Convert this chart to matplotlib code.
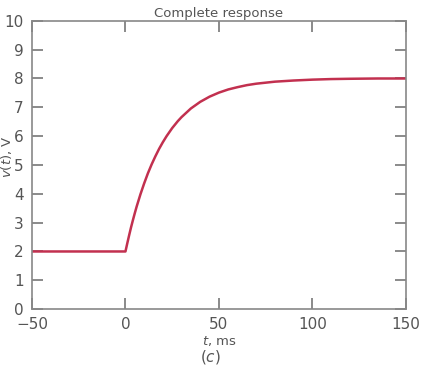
import numpy as np
import matplotlib.pyplot as plt

# values
t = [-50, 0, 1, 2, 3, 4, 5, 6, 7, 8, 9, 10, 12, 14, 16, 18, 20, 22, 25, 28, 30, 35,
     40, 45, 50, 55, 60, 65, 70, 80, 90, 100, 110, 120, 135, 150]
v = [2.0, 2.0, 2.29, 2.57, 2.84, 3.09, 3.33, 3.56, 3.77, 3.98, 4.17, 4.36, 4.71, 5.02,
     5.30, 5.56, 5.79, 6.00, 6.28, 6.52, 6.66, 6.96, 7.19, 7.37, 7.51, 7.62, 7.70, 7.77,
     7.82, 7.89, 7.93, 7.96, 7.98, 7.99, 8.0, 8.0]

xticks = [-50, 0, 50, 100, 150]
yticks = list(range(0, 11))

gray = "#555555"
fig = plt.figure(figsize=(4.21, 3.72), dpi=100)
ax = fig.add_axes([0.076, 0.169, 0.888, 0.775])
ax.plot(t, v, color="#c2304f", lw=1.8)

ax.set_xlim(-50, 150)
ax.set_ylim(0, 10)
ax.set_xticks(xticks)
ax.set_yticks(yticks)
ax.tick_params(direction="in", length=8, width=1.2, color="#777777",
               labelcolor=gray, labelsize=11, top=True, right=True)
ax.tick_params(axis="x", pad=6)
ax.tick_params(axis="y", pad=6)
for s in ax.spines.values():
    s.set_color("#888888")
    s.set_linewidth(1.2)

ax.set_title("Complete response", fontsize=9.5, color=gray, pad=3)
ax.set_xlabel("$t$, ms", fontsize=9.5, color=gray, labelpad=1)
fig.text(0.016, 0.58, "$v(t)$, V", rotation=90, fontsize=9.5, color=gray,
         ha="center", va="center")
fig.text(0.5, 0.027, "$(c)$", fontsize=11, color=gray, ha="center")

fig.savefig("out.png", dpi=100)
